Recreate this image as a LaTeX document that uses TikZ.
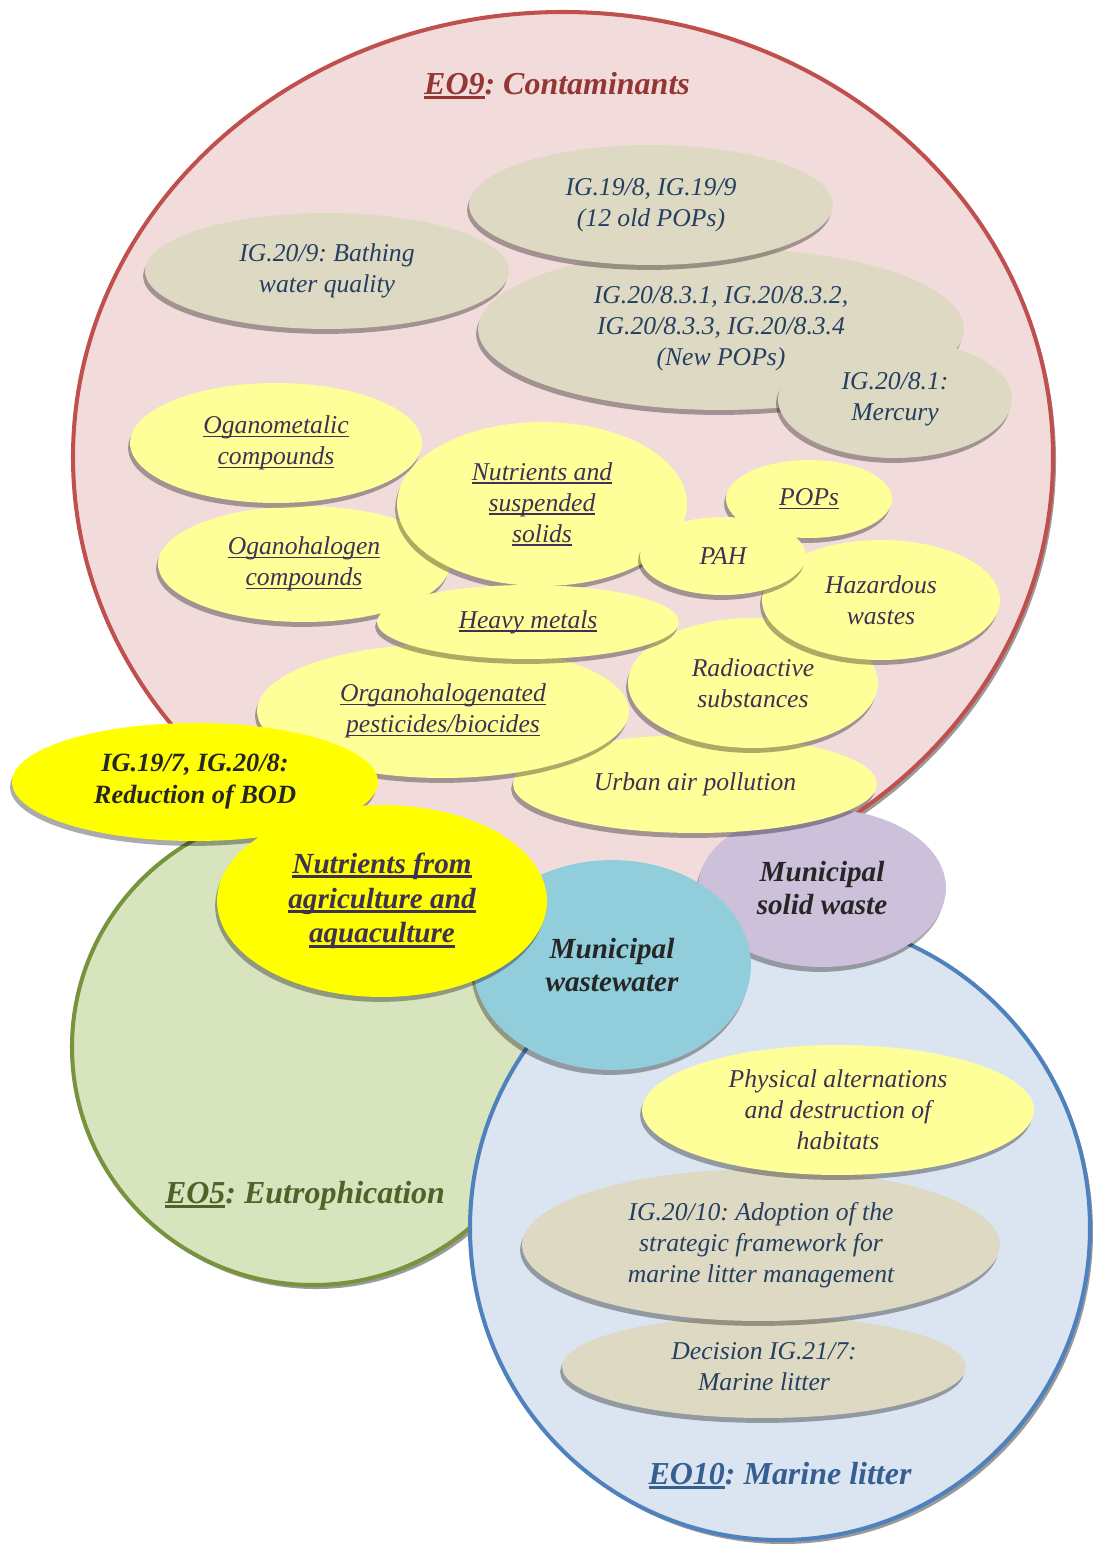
\documentclass[tikz,border=0pt]{standalone}
\usepackage{fontspec}
\setmainfont{Liberation Serif}
\usetikzlibrary{shapes.geometric, shadows}
\definecolor{redLineC}{HTML}{C0504D}
\definecolor{redFillC}{HTML}{F2DCDB}
\definecolor{redTextC}{HTML}{943634}
\definecolor{greenLineC}{HTML}{77933C}
\definecolor{greenFillC}{HTML}{D7E4BD}
\definecolor{greenTextC}{HTML}{4F6228}
\definecolor{blueLineC}{HTML}{4F81BD}
\definecolor{blueFillC}{HTML}{DBE5F1}
\definecolor{blueTextC}{HTML}{365F91}
\definecolor{tanC}{HTML}{DDD9C3}
\definecolor{tanTextC}{HTML}{243F60}
\definecolor{paleC}{HTML}{FFFF99}
\definecolor{paleTextC}{HTML}{3F3151}
\definecolor{brightC}{HTML}{FFFF00}
\definecolor{waterC}{HTML}{92CDDC}
\definecolor{wasteC}{HTML}{CCC0DA}
\definecolor{inkC}{HTML}{262626}
\definecolor{shadeC}{HTML}{9A9A9A}

% underlines at a fixed depth, as the word processor sets them
\newcommand\uln[1]{\setbox0=\hbox{#1}\rlap{\rule[-2pt]{\wd0}{0.9pt}}\box0}
\newcommand\ulb[1]{\setbox0=\hbox{#1}\rlap{\rule[-2.6pt]{\wd0}{1.7pt}}\box0}

\frenchspacing
\begin{document}
\begin{tikzpicture}[
  x=0.02cm,
  y=-0.02cm,
  line join=round,
  blob/.style={ellipse, inner sep=0pt, align=center,
    drop shadow={shadow xshift=-1.1pt, shadow yshift=-2.8pt, opacity=0.33, fill=black}},
  rxy/.style 2 args={minimum width=#1*0.04cm, minimum height=#2*0.04cm},
  tanblob/.style={blob, fill=tanC, text=tanTextC, font=\itshape\fontsize{14.6}{17.6}\selectfont},
  paleblob/.style={blob, fill=paleC, text=paleTextC, font=\itshape\fontsize{14.6}{17.6}\selectfont},
  boldblob/.style={blob, text=inkC, font=\bfseries\itshape\fontsize{16.6}{19.2}\selectfont},
  eotitle/.style={font=\bfseries\itshape\fontsize{18.2}{22}\selectfont}
]

\useasboundingbox (0,0) rectangle (1092,1544);

% EO9 / EO5 / EO10 areas
\fill[shadeC] (566,461) ellipse [x radius=490, y radius=445];
\draw[redLineC, fill=redFillC, line width=2.3pt] (563,457) ellipse [x radius=490, y radius=445];
\node[eotitle, text=redTextC] (eo9) at (557,86) {\ulb{EO9}: Contaminants};

\fill[shadeC] (316,1051) ellipse [x radius=241, y radius=238];
\draw[greenLineC, fill=greenFillC, line width=2.3pt] (313,1047) ellipse [x radius=241, y radius=238];
\node[eotitle, text=greenTextC] (eo5) at (305,1196) {\ulb{EO5}: Eutrophication};

\fill[shadeC] (783,1232) ellipse [x radius=310, y radius=312];
\draw[blueLineC, fill=blueFillC, line width=2.3pt] (780,1228) ellipse [x radius=310, y radius=312];
\node[eotitle, text=blueTextC] (eo10) at (780,1476) {\ulb{EO10}: Marine litter};

% Contaminants: decisions
\node[tanblob, rxy={182}{58}] (bathing) at (327,271) {IG.20/9: Bathing\\water quality};
\node[tanblob, rxy={243}{81}] (newpops) at (721,329) {IG.20/8.3.1, IG.20/8.3.2,\\IG.20/8.3.3, IG.20/8.3.4\\(New POPs)};
\node[tanblob, rxy={182}{60}] (oldpops) at (651,205) {IG.19/8, IG.19/9\\(12 old POPs)};
\node[tanblob, rxy={117}{59}] (mercury) at (895,399) {IG.20/8.1:\\Mercury};

\node[boldblob, fill=wasteC, rxy={124}{79}] (solidwaste) at (822,888) {Municipal\\solid waste};

% Contaminants: pressures
\node[paleblob, rxy={146}{58}] (halogen) at (304,564) {\uln{Oganohalogen}\\\uln{compounds}};
\node[paleblob, rxy={145}{82}] (nutsolids) at (542,504) {\uln{Nutrients and}\\\uln{suspended}\\\uln{solids}};
\node[paleblob, rxy={146}{60}] (metalic) at (276,443) {\uln{Oganometalic}\\\uln{compounds}};
\node[paleblob, rxy={182}{49}] (urbanair) at (695,784) {Urban air pollution};
\node[paleblob, rxy={125}{65}] (radio) at (753,683) {Radioactive\\substances};
\node[paleblob, rxy={186}{67}] (pesticides) at (443,711) {\uln{Organohalogenated}\\\uln{pesticides/biocides}};
\node[paleblob, rxy={151}{37}] (heavymetals) at (528,622) {\uln{Heavy metals}};
\node[paleblob, rxy={119}{60}] (hazardous) at (881,600) {Hazardous\\wastes};
\node[paleblob, rxy={83}{39}] (pops) at (809,499) {\uln{POPs}};
\node[paleblob, rxy={83}{39}] (pah) at (723,556) {PAH};

% Eutrophication
\node[boldblob, fill=brightC, font=\bfseries\itshape\fontsize{15}{18.2}\selectfont, rxy={183}{59}] (bod) at (195,782) {IG.19/7, IG.20/8:\\Reduction of BOD};

% Marine litter
\node[tanblob, rxy={202}{51}] (decision) at (764,1367) {Decision IG.21/7:\\Marine litter};
\node[tanblob, rxy={239}{76}] (framework) at (761,1245) {IG.20/10: Adoption of the\\strategic framework for\\marine litter management};
\node[paleblob, rxy={196}{65}] (habitats) at (838,1110) {Physical alternations\\and destruction of\\habitats};

% shared pressures
\node[boldblob, fill=waterC, rxy={139}{105}] (wastewater) at (612,965) {Municipal\\wastewater};
\node[boldblob, fill=brightC, text=paleTextC, font=\bfseries\itshape\fontsize{16.6}{19.8}\selectfont, rxy={165}{96}] (agrinut) at (382,901) {\ulb{Nutrients from}\\\ulb{agriculture and}\\\ulb{aquaculture}};

\end{tikzpicture}
\end{document}
